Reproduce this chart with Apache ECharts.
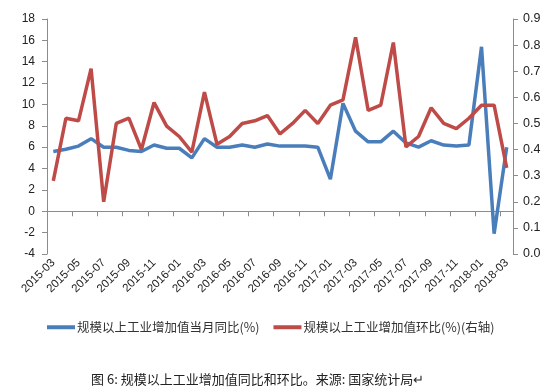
<!DOCTYPE html>
<html><head><meta charset="utf-8">
<script src="https://cdn.jsdelivr.net/npm/echarts@6/dist/echarts.min.js"></script>
<style>html,body{margin:0;padding:0;background:#fff}#c{width:555px;height:392px}</style>
</head><body><div id="c"></div>
<script>
const categories = ["2015-03","2015-04","2015-05","2015-06","2015-07","2015-08","2015-09","2015-10","2015-11","2015-12",
"2016-01","2016-02","2016-03","2016-04","2016-05","2016-06","2016-07","2016-08","2016-09","2016-10","2016-11","2016-12",
"2017-01","2017-02","2017-03","2017-04","2017-05","2017-06","2017-07","2017-08","2017-09","2017-10","2017-11","2017-12",
"2018-01","2018-02","2018-03"];
const yoyName = "规模以上工业增加值当月同比(%)";
const momName = "规模以上工业增加值环比(%)(右轴)";
const yoy = [5.6,5.8,6.1,6.8,6.0,6.0,5.7,5.6,6.2,5.9,
5.9,5.0,6.8,6.0,6.0,6.2,6.0,6.3,6.1,6.1,6.1,6.0,
3.0,10.1,7.5,6.5,6.5,7.5,6.4,6.0,6.6,6.2,6.1,6.2,
15.4,-2.1,6.0];
const mom = [0.28,0.52,0.51,0.71,0.20,0.50,0.52,0.40,0.58,0.49,
0.45,0.39,0.62,0.42,0.45,0.50,0.51,0.53,0.46,0.50,0.55,0.50,
0.57,0.59,0.83,0.55,0.57,0.81,0.41,0.45,0.56,0.50,0.48,0.52,
0.57,0.57,0.33];
const caption = "图 6: 规模以上工业增加值同比和环比。来源: 国家统计局";

const chart = echarts.init(document.getElementById('c'), null, {renderer:'canvas'});
const axisColor = '#8c8c8c';
const fontCN = '"Noto Sans CJK SC", sans-serif';
const fontLat = '"Liberation Sans", Arial, sans-serif';
chart.setOption({
  animation:false,
  backgroundColor:'#fff',
  grid:{left:47,right:42,top:19,bottom:138,containLabel:false},
  legend:{
    top:316,left:42,itemWidth:28,itemHeight:4,itemGap:14,icon:'rect',
    textStyle:{fontFamily:fontCN,fontSize:12.5,color:'#333',padding:[0,0,0,-3]},
    data:[yoyName,momName]
  },
  title:{
    text:caption+'\u21B5',
    left:86,top:368,
    textStyle:{fontFamily:fontCN,fontSize:13,fontWeight:'normal',color:'#222'}
  },
  xAxis:[{
    type:'category',data:categories,boundaryGap:true,
    axisLine:{onZero:true,lineStyle:{color:axisColor,width:1}},
    axisTick:{show:true,interval:1,length:5,lineStyle:{color:axisColor}},
    axisLabel:{show:false}
  },{
    type:'category',data:categories,boundaryGap:true,position:'bottom',
    axisLine:{show:false,onZero:false},
    axisTick:{show:false},
    axisLabel:{interval:1,rotate:45,fontSize:11.5,color:'#222',margin:7,fontFamily:fontLat}
  }],
  yAxis:[{
    type:'value',min:-4,max:18,interval:2,
    axisLine:{show:true,lineStyle:{color:axisColor}},
    axisTick:{show:true,length:5,lineStyle:{color:axisColor}},
    splitLine:{show:false},
    axisLabel:{fontSize:12,color:'#222',margin:12,fontFamily:fontLat}
  },{
    type:'value',min:0,max:0.9,interval:0.1,position:'right',
    axisLine:{show:true,lineStyle:{color:axisColor}},
    axisTick:{show:true,length:5,lineStyle:{color:axisColor}},
    splitLine:{show:false},
    axisLabel:{fontSize:12.5,color:'#222',margin:10,formatter:v=>v.toFixed(1),fontFamily:fontLat}
  }],
  series:[{
    name:yoyName,type:'line',data:yoy,xAxisIndex:0,yAxisIndex:0,
    symbol:'none',lineStyle:{color:'#4A7EBB',width:3.5},itemStyle:{color:'#4A7EBB'}
  },{
    name:momName,type:'line',data:mom,xAxisIndex:0,yAxisIndex:1,
    symbol:'none',lineStyle:{color:'#BE4B48',width:3.5},itemStyle:{color:'#BE4B48'}
  }]
});
</script></body></html>
